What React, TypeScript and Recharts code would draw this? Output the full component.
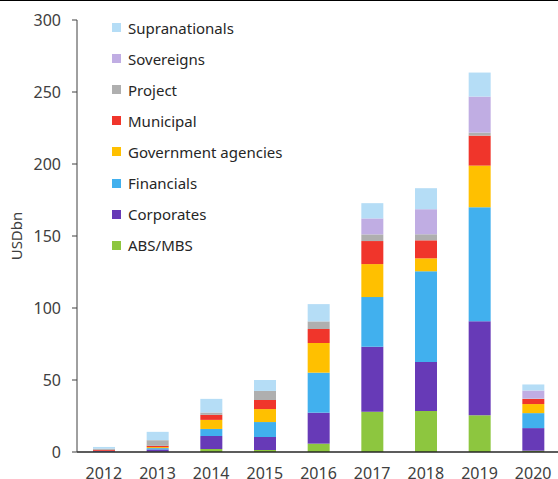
import { Bar, BarChart, Legend, XAxis, YAxis } from 'recharts'

const years = ['2012', '2013', '2014', '2015', '2016', '2017', '2018', '2019', '2020']

const absMbs = [0, 0.2, 2.1, 1.4, 5.8, 28.0, 28.5, 25.5, 0.9]
const corporates = [0.5, 1.6, 9.0, 9.0, 21.5, 45.1, 34.0, 65.3, 15.7]
const financials = [0.3, 0.9, 4.9, 10.4, 27.8, 34.5, 63.0, 79.2, 10.4]
const govAgencies = [0, 0.7, 6.3, 9.0, 20.6, 22.9, 9.0, 28.9, 6.3]
const municipal = [0.7, 0.9, 3.5, 6.3, 9.7, 16.0, 12.5, 20.8, 3.5]
const project = [0.8, 3.9, 1.6, 6.3, 5.3, 4.6, 4.2, 2.1, 0.3]
const sovereigns = [0, 0, 0, 0, 0, 11.1, 17.4, 25.0, 5.6]
const supranationals = [1.2, 5.8, 9.5, 7.6, 12.0, 10.6, 14.6, 16.7, 4.2]

const yTicks = [0, 50, 100, 150, 200, 250, 300]

// bottom to top stacking order
const series = [
  { key: 'abs', name: 'ABS/MBS', values: absMbs, color: '#8dc63f' },
  { key: 'corp', name: 'Corporates', values: corporates, color: '#673ab7' },
  { key: 'fin', name: 'Financials', values: financials, color: '#41b0ee' },
  { key: 'gov', name: 'Government agencies', values: govAgencies, color: '#ffc000' },
  { key: 'muni', name: 'Municipal', values: municipal, color: '#f0352b' },
  { key: 'proj', name: 'Project', values: project, color: '#afafaf' },
  { key: 'sov', name: 'Sovereigns', values: sovereigns, color: '#c0ade3' },
  { key: 'supra', name: 'Supranationals', values: supranationals, color: '#b5ddf6' },
]

const data = years.map((year, i) => {
  const row: Record<string, string | number> = { year }
  series.forEach((s) => {
    row[s.key] = s.values[i]
  })
  return row
})

const font = '"Noto Sans", sans-serif'

function LegendList() {
  const items = [...series].reverse()
  return (
    <div style={{ fontFamily: font, fontSize: 15, color: '#262626' }}>
      {items.map((s) => (
        <div
          key={s.key}
          style={{ height: 31.1, display: 'flex', alignItems: 'center', whiteSpace: 'nowrap' }}
        >
          <span
            style={{
              display: 'inline-block',
              width: 9,
              height: 9,
              background: s.color,
              marginRight: 7,
            }}
          />
          {s.name}
        </div>
      ))}
    </div>
  )
}

export default function App() {
  return (
    <div
      style={{
        position: 'absolute',
        left: 0,
        top: 0,
        width: 558,
        height: 479,
        overflow: 'hidden',
        background: '#fff',
        borderTop: '1px solid #000',
        boxSizing: 'border-box',
      }}
    >
      <BarChart
        width={562}
        height={478}
        data={data}
        margin={{ top: 19, right: 2, left: 0, bottom: 0 }}
        barSize={22}
      >
        <XAxis
          dataKey="year"
          height={27}
          tickLine={false}
          tickSize={0}
          tickMargin={16}
          axisLine={{ stroke: '#262626', strokeWidth: 1.3 }}
          tick={{ fill: '#404040', fontSize: 16, fontFamily: font }}
          interval={0}
        />
        <YAxis
          width={77}
          domain={[0, 300]}
          ticks={yTicks}
          tickSize={5}
          tickMargin={11}
          axisLine={{ stroke: '#404040' }}
          tickLine={{ stroke: '#404040' }}
          tick={{ fill: '#404040', fontSize: 16, fontFamily: font }}
          label={{
            content: ({ viewBox }: any) => (
              <text
                x={viewBox.x + 22}
                y={viewBox.y + viewBox.height / 2}
                transform={`rotate(-90 ${viewBox.x + 22} ${viewBox.y + viewBox.height / 2})`}
                textAnchor="middle"
                fill="#404040"
                fontSize={15}
                fontFamily={font}
              >
                USDbn
              </text>
            ),
          }}
        />
        <Legend
          layout="vertical"
          align="center"
          verticalAlign="middle"
          content={() => <LegendList />}
          wrapperStyle={{ top: 11, left: 112, width: 200 }}
        />
        {series.map((s) => (
          <Bar
            key={s.key}
            dataKey={s.key}
            name={s.name}
            stackId="a"
            fill={s.color}
            isAnimationActive={false}
          />
        ))}
      </BarChart>
    </div>
  )
}
